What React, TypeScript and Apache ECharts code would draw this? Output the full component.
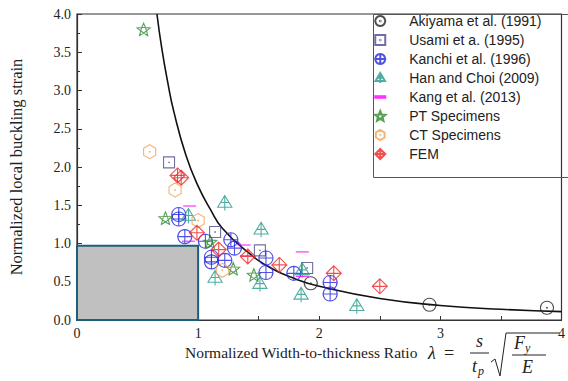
import React, { useEffect, useRef } from "react";
import * as echarts from "echarts";

// ---- data ----
const akiyama = [[1.93, 0.48], [2.91, 0.2], [3.88, 0.16]];
const usami = [[0.76, 2.06], [1.14, 1.15], [1.51, 0.91], [1.9, 0.68]];
const kanchi = [
  [0.84, 1.38], [0.84, 1.32], [0.89, 1.09], [1.06, 1.03], [1.11, 0.82], [1.11, 0.76],
  [1.27, 1.05], [1.3, 0.94], [1.22, 0.78], [1.56, 0.81], [1.56, 0.62], [1.79, 0.61],
  [2.09, 0.49], [2.09, 0.34],
];
const han = [[0.92, 1.36], [1.22, 1.53], [1.52, 1.18], [1.14, 0.55], [1.51, 0.47], [1.86, 0.65], [1.85, 0.33], [2.31, 0.18]];
const kang = [[0.93, 1.49], [0.92, 1.03], [1.38, 0.98], [1.4, 0.84], [1.86, 0.89], [1.86, 0.57]];
const pt = [[0.55, 3.8], [0.73, 1.33], [1.1, 1.02], [1.29, 0.67], [1.46, 0.59]];
const ct = [[0.6, 2.2], [0.81, 1.7], [1.0, 1.3], [1.2, 0.65]];
const fem = [[0.83, 1.89], [0.86, 1.86], [0.99, 1.14], [1.17, 0.92], [1.41, 0.83], [1.67, 0.72], [2.12, 0.61], [2.5, 0.44]];
const curve = [
  [0.66, 4.0], [0.7, 3.55], [0.75, 3.1], [0.8, 2.72], [0.9, 2.15], [1.0, 1.75], [1.1, 1.45],
  [1.2, 1.2], [1.4, 0.9], [1.6, 0.68], [1.8, 0.54], [2.0, 0.44], [2.5, 0.28], [3.0, 0.19],
  [3.5, 0.14], [4.0, 0.11],
];
const elasticBox = [[0, 0], [1, 0.97]];
const seriesNames = [
  "Akiyama et al. (1991)", "Usami et a. (1995)", "Kanchi et al. (1996)", "Han and Choi (2009)",
  "Kang et al. (2013)", "PT Specimens", "CT Specimens", "FEM",
];
const xTitle = "Normalized Width-to-thickness Ratio";
const yTitle = "Normalized local buckling strain";

// ---- symbols ----
const S_CIRCLE_DOT = "path://M10,1 A9,9 0 1,1 9.99,1 Z M10,9.4 A0.6,0.6 0 1,1 9.99,9.4 Z";
const S_SQUARE_DOT = "path://M1,1 L19,1 L19,19 L1,19 Z M10,9.4 A0.6,0.6 0 1,1 9.99,9.4 Z";
const S_CIRCLE_PLUS = "path://M10,1 A9,9 0 1,1 9.99,1 Z M1,10 L19,10 M10,1 L10,19";
const S_TRI = "path://M10,1 L19,16 L1,16 Z M10,1 L10,20 M4.5,10 L15.5,10";
const S_DASH = "path://M0,0 L12,0 L12,3.6 L0,3.6 Z";
const S_STAR =
  "path://M10,0 L12.6,6.4 L19.5,6.9 L14.3,11.4 L15.9,18.1 L10,14.5 L4.1,18.1 L5.7,11.4 L0.5,6.9 L7.4,6.4 Z M7.4,6.4 L12.6,6.4 L14.3,11.4 L10,14.5 L5.7,11.4 Z";
const S_HEX = "path://M10,0 L18.66,5 L18.66,15 L10,20 L1.34,15 L1.34,5 Z M10,9.4 A0.6,0.6 0 1,1 9.99,9.4 Z";
const S_DIAMOND = "path://M10,0 L20,10 L10,20 L0,10 Z M0,10 L20,10 M10,0 L10,20";

const COLORS = ["#222222", "#4b4b8f", "#2424e0", "#239a8a", "#ff00ff", "#2e8b2e", "#f0a050", "#ee2222"];

export default function App() {
  const ref = useRef<HTMLDivElement>(null);
  useEffect(() => {
    if (!ref.current) return;
    const chart = echarts.init(ref.current, undefined, { renderer: "svg" });
    const hollow = (name: string, data: number[][], symbol: string, size: any, color: string, z: number, filled = false) => ({
      name,
      type: "scatter",
      data,
      symbol,
      symbolSize: size,
      symbolKeepAspect: true,
      z,
      itemStyle: filled
        ? { color, borderWidth: 0 }
        : { color: "rgba(0,0,0,0)", borderColor: color, borderWidth: 1.1 },
    });
    const serif = "'Liberation Serif', 'Times New Roman', serif";
    const txt = (text: string, x: number, y: number, size: number, italic = true) => ({
      type: "text",
      x,
      y,
      style: { text, font: `${italic ? "italic " : ""}${size}px ${serif}`, fill: "#222", verticalAlign: "middle" },
    });
    chart.setOption({
      animation: false,
      backgroundColor: "#ffffff",
      grid: { left: 73, right: 2, top: 14, bottom: 61, show: true, borderColor: "#333", borderWidth: 1.2, containLabel: false },
      xAxis: {
        type: "value",
        min: 0,
        max: 4,
        interval: 0.5,
        axisLine: { show: true, lineStyle: { color: "#333", width: 1.2 } },
        axisTick: { show: true, inside: true, length: 4, lineStyle: { color: "#333" } },
        axisLabel: {
          fontFamily: serif,
          fontSize: 14,
          color: "#222",
          margin: 6,
          formatter: (v: number) => (Math.abs(v - Math.round(v)) < 1e-9 ? String(Math.round(v)) : ""),
        },
        splitLine: { show: false },
      },
      yAxis: {
        type: "value",
        min: 0,
        max: 4,
        interval: 0.5,
        name: yTitle,
        nameLocation: "middle",
        nameGap: 52,
        nameTextStyle: { fontFamily: serif, fontSize: 16.5, color: "#222" },
        axisLine: { show: true, lineStyle: { color: "#333", width: 1.2 } },
        axisTick: { show: true, inside: true, length: 5, lineStyle: { color: "#333" } },
        minorTick: { show: true, splitNumber: 2, length: 3, lineStyle: { color: "#333" } },
        axisLabel: { fontFamily: serif, fontSize: 14, color: "#222", margin: 6, formatter: (v: number) => v.toFixed(1) },
        splitLine: { show: false },
      },
      legend: {
        orient: "vertical",
        left: 374,
        top: 14,
        itemWidth: 12,
        itemHeight: 10,
        itemGap: 5,
        padding: 0,
        data: seriesNames,
        textStyle: { fontFamily: "'Liberation Sans', Arial, sans-serif", fontSize: 14, color: "#222", padding: [0, 0, 0, 18] },
      },
      graphic: [
        { type: "rect", left: 371, top: 12, shape: { width: 195, height: 163 }, style: { fill: "none", stroke: "#555", lineWidth: 1 }, z: 1 },
        { type: "text", left: 185, top: 344, style: { text: xTitle, font: `15.5px ${serif}`, fill: "#222" } },
        txt("λ", 428, 353, 18),
        txt("=", 444, 353, 18, false),
        txt("s", 476, 341, 18),
        { type: "line", shape: { x1: 470, y1: 353, x2: 489, y2: 353 }, style: { stroke: "#222", lineWidth: 1 } },
        txt("t", 472, 366, 18),
        txt("p", 478, 371, 12),
        { type: "polyline", shape: { points: [[491, 362], [495, 359], [500, 376], [506, 333], [560, 333]] }, style: { stroke: "#222", lineWidth: 1, fill: "none" } },
        txt("F", 514, 343, 18),
        txt("y", 525, 348, 12),
        { type: "line", shape: { x1: 512, y1: 355, x2: 546, y2: 355 }, style: { stroke: "#222", lineWidth: 1 } },
        txt("E", 522, 367, 18),
      ],
      series: [
        {
          name: "box",
          type: "line",
          data: [],
          silent: true,
          z: 1,
          markArea: {
            silent: true,
            itemStyle: { color: "#c0c0c0", borderColor: "#1c5f7c", borderWidth: 2 },
            data: [[{ coord: elasticBox[0] }, { coord: elasticBox[1] }]],
          },
        },
        {
          name: "curve",
          type: "line",
          data: curve,
          smooth: true,
          showSymbol: false,
          symbol: "none",
          z: 2,
          lineStyle: { color: "#111", width: 1.6 },
        },
        hollow(seriesNames[0], akiyama, S_CIRCLE_DOT, 13, COLORS[0], 3),
        hollow(seriesNames[1], usami, S_SQUARE_DOT, 11, COLORS[1], 3),
        hollow(seriesNames[2], kanchi, S_CIRCLE_PLUS, 14, COLORS[2], 3),
        hollow(seriesNames[3], han, S_TRI, 15, COLORS[3], 3),
        hollow(seriesNames[4], kang, S_DASH, [13, 4], COLORS[4], 3, true),
        hollow(seriesNames[5], pt, S_STAR, 13, COLORS[5], 3),
        hollow(seriesNames[6], ct, S_HEX, 14, COLORS[6], 3),
        hollow(seriesNames[7], fem, S_DIAMOND, 15, COLORS[7], 3),
      ],
    });
    return () => chart.dispose();
  }, []);
  return <div ref={ref} style={{ width: 568, height: 381, position: "absolute", left: 0, top: 0 }} />;
}
